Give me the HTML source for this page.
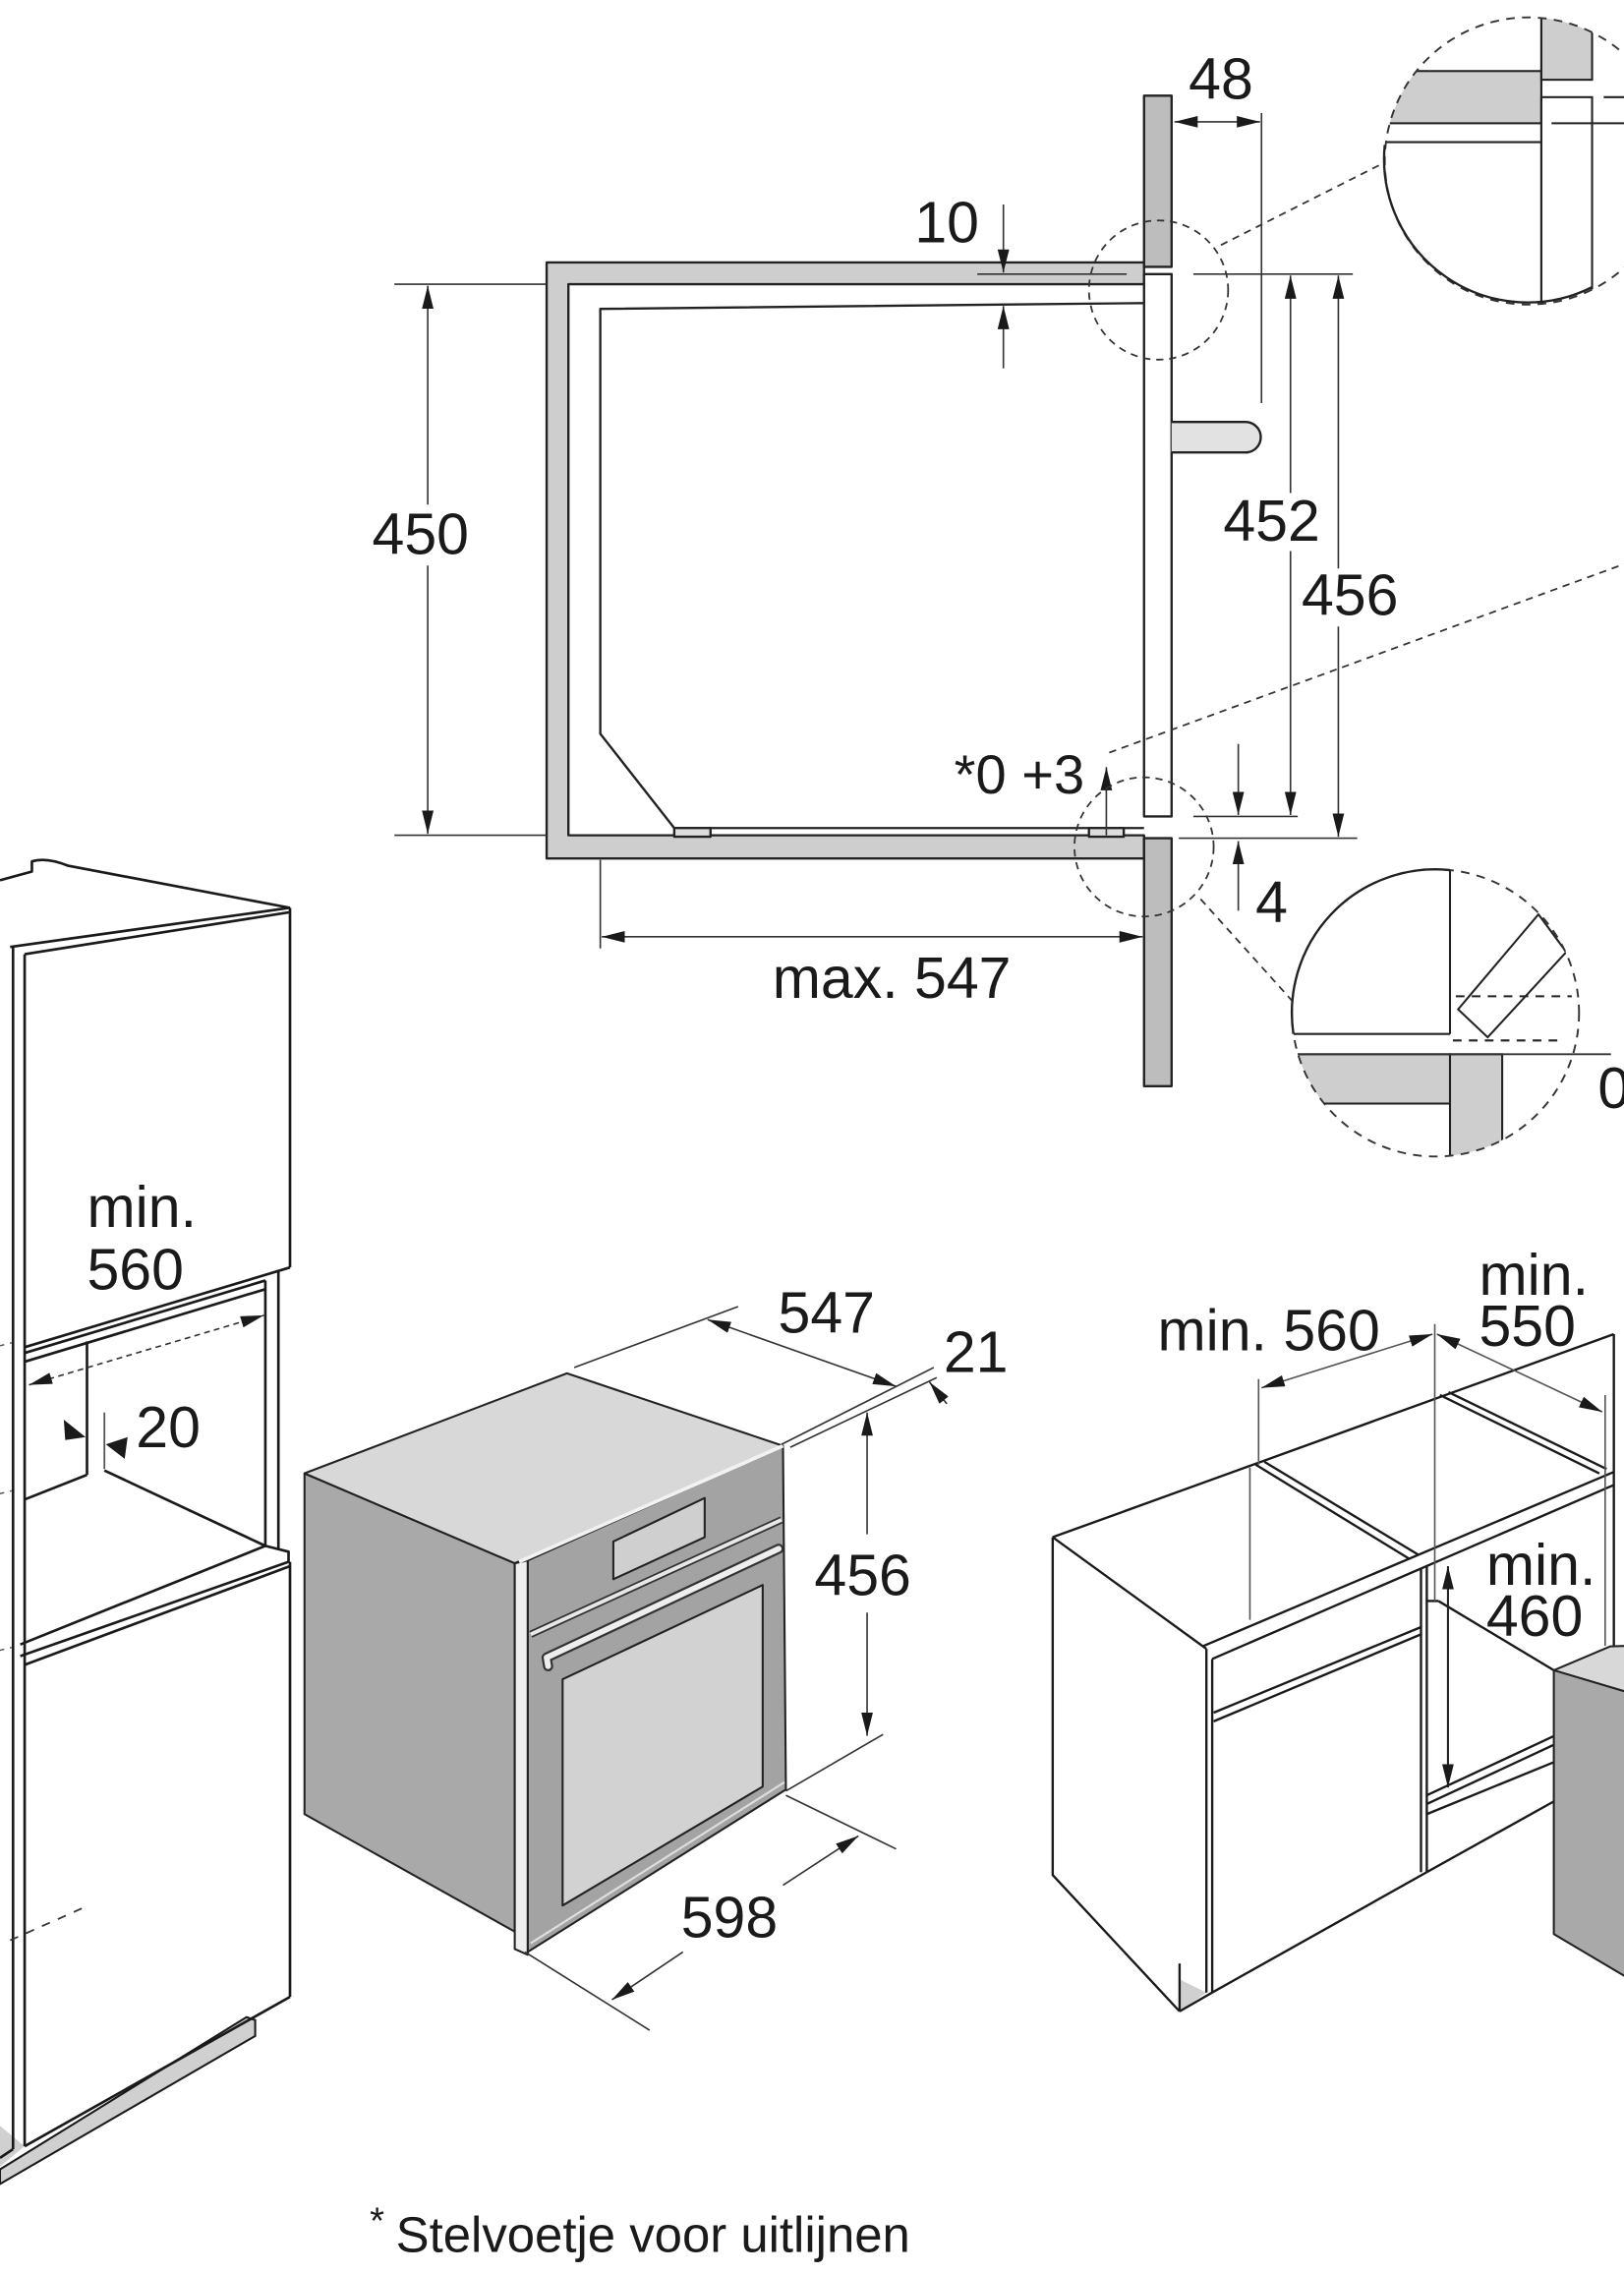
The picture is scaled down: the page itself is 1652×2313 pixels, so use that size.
<!DOCTYPE html>
<html><head><meta charset="utf-8">
<style>
html,body{margin:0;padding:0;background:#fff;}
svg{display:block;}
text{font-family:"Liberation Sans",sans-serif;fill:#1a1a1a;font-size:40px;}
</style></head><body>
<svg width="1652" height="2313" viewBox="0 0 1120 1568.1" preserveAspectRatio="none" xmlns="http://www.w3.org/2000/svg">
<defs>
<marker id="ar" viewBox="0 0 16 8" refX="16" refY="4" markerWidth="16" markerHeight="8" markerUnits="userSpaceOnUse" orient="auto-start-reverse"><path d="M0,0 L16,4 L0,8 Z" fill="#1a1a1a"/></marker>
<clipPath id="c1"><circle cx="1054" cy="111" r="99"/></clipPath>
<clipPath id="c2"><circle cx="990" cy="698.5" r="99"/></clipPath>
</defs>

<!-- ================= TOP SECTION DIAGRAM ================= -->
<g fill="none" stroke="#222" stroke-width="1.6" stroke-linejoin="round">
<path d="M377,181 H789 V196 H392 V576 H789 V592 H377 Z" fill="#cecece"/>
<rect x="789" y="66" width="19" height="118" fill="#bdbdbd"/>
<rect x="789" y="578" width="19" height="171" fill="#bdbdbd"/>
<rect x="789" y="189" width="19" height="374" fill="#fff"/>
<path d="M789,209 L414,213 V506 L465,571 H789"/>
<rect x="465" y="571" width="25" height="6" fill="#ddd"/>
<rect x="751" y="571" width="24" height="6" fill="#ddd"/>
<path d="M808,291 H859 A10.5,10.5 0 0 1 859,312 H808" fill="#e2e2e2"/>
</g>

<g stroke="#333" stroke-width="1.1" fill="none">
<line x1="870" y1="78" x2="870" y2="278"/>
<line x1="810" y1="84" x2="869" y2="84" marker-start="url(#ar)" marker-end="url(#ar)"/>
<line x1="692" y1="141" x2="692" y2="188" marker-end="url(#ar)"/>
<line x1="674" y1="189" x2="777" y2="189"/>
<line x1="692" y1="254" x2="692" y2="211" marker-end="url(#ar)"/>
<line x1="823" y1="189" x2="933" y2="189"/>
<line x1="823" y1="563" x2="895" y2="563"/>
<line x1="813" y1="578" x2="936" y2="578"/>
<line x1="890" y1="190" x2="890" y2="340" marker-start="url(#ar)"/>
<line x1="890" y1="380" x2="890" y2="562" marker-end="url(#ar)"/>
<line x1="923" y1="190" x2="923" y2="392" marker-start="url(#ar)"/>
<line x1="923" y1="432" x2="923" y2="577" marker-end="url(#ar)"/>
<line x1="272" y1="196" x2="377" y2="196"/>
<line x1="272" y1="576" x2="377" y2="576"/>
<line x1="295" y1="197" x2="295" y2="348" marker-start="url(#ar)"/>
<line x1="295" y1="390" x2="295" y2="575" marker-end="url(#ar)"/>
<line x1="414" y1="593" x2="414" y2="654"/>
<line x1="415" y1="646" x2="788" y2="646" marker-start="url(#ar)" marker-end="url(#ar)"/>
<line x1="763" y1="576" x2="763" y2="529" marker-end="url(#ar)"/>
<line x1="854" y1="513" x2="854" y2="562" marker-end="url(#ar)"/>
<line x1="854" y1="628" x2="854" y2="580" marker-end="url(#ar)"/>
</g>

<g stroke="#333" stroke-width="1.2" fill="none" stroke-dasharray="5 4">
<circle cx="799" cy="200" r="48"/>
<circle cx="789" cy="584" r="48"/>
<line x1="842" y1="169" x2="955" y2="112"/>
<line x1="765" y1="519" x2="1120" y2="389"/>
<line x1="828" y1="620" x2="891" y2="690"/>
</g>

<text x="842" y="68" text-anchor="middle">48</text>
<text x="653" y="167" text-anchor="middle">10</text>
<text x="877" y="373" text-anchor="middle">452</text>
<text x="931" y="424" text-anchor="middle">456</text>
<text x="290" y="382" text-anchor="middle">450</text>
<text x="615" y="688" text-anchor="middle">max. 547</text>
<text x="703" y="547" text-anchor="middle" style="font-size:38px">*0 +3</text>
<text x="877" y="636" text-anchor="middle">4</text>

<!-- detail circle 1 -->
<circle cx="1054" cy="111" r="99" fill="#fff" stroke="none"/>
<g clip-path="url(#c1)" stroke="#222" stroke-width="1.4" fill="none">
<rect x="940" y="49" width="123" height="36" fill="#cecece"/>
<line x1="940" y1="98" x2="1063" y2="98"/>
<rect x="1063" y="0" width="35" height="55" fill="#cecece"/>
<rect x="1063" y="67" width="35" height="150" fill="#fff"/>
<line x1="1063" y1="0" x2="1063" y2="215"/>
<line x1="1106" y1="67" x2="1160" y2="67"/>
<line x1="1070" y1="85" x2="1160" y2="85"/>
</g>
<circle cx="1054" cy="111" r="99" fill="none" stroke="#333" stroke-dasharray="6 5" stroke-width="1.3"/>
<path d="M955,100 A99,99 0 0 0 1098,198" stroke="#222" stroke-width="1.6" fill="none"/>

<!-- detail circle 2 -->
<circle cx="990" cy="698.5" r="99" fill="#fff" stroke="none"/>
<g clip-path="url(#c2)" stroke="#222" stroke-width="1.4" fill="none">
<rect x="880" y="727" width="120" height="34" fill="#cecece"/>
<rect x="1000" y="727" width="36" height="80" fill="#cecece"/>
<line x1="1000" y1="590" x2="1000" y2="713"/>
<line x1="880" y1="713" x2="1000" y2="713"/>
<polygon points="1061,630.5 1080.2,656.5 1026,715.3 1005.6,696" fill="#fff"/>
<g stroke-dasharray="6 5"><line x1="1004" y1="687" x2="1084" y2="687"/><line x1="1002" y1="717.5" x2="1078" y2="717.5"/></g>
</g>
<line x1="895" y1="727" x2="1111" y2="727" stroke="#333" stroke-width="1.3"/>
<circle cx="990" cy="698.5" r="99" fill="none" stroke="#333" stroke-dasharray="6 5" stroke-width="1.3"/>
<path d="M892,713 A99,99 0 0 1 1000,600" stroke="#222" stroke-width="1.6" fill="none"/>
<text x="1102" y="764">0</text>

<!-- ================= LEFT TALL CABINET ================= -->
<polygon points="170,1391 176,1393 176,1404 0,1506 0,1496" fill="#d0d0d0" stroke="#1a1a1a" stroke-width="1.4"/>
<polygon points="0,1466 17,1480 0,1494" fill="#d0d0d0"/>
<g stroke="#1a1a1a" stroke-width="1.8" fill="none" stroke-linejoin="round">
<path d="M0,607 L22,601 L22,594 Q32,591 47,597 L200,626"/>
<line x1="7" y1="653" x2="200" y2="626"/>
<line x1="17" y1="658" x2="200" y2="629"/>
<line x1="200" y1="626" x2="200" y2="874"/>
<line x1="200" y1="874" x2="17" y2="929"/>
<line x1="9" y1="653" x2="9" y2="1482"/>
<line x1="17" y1="658" x2="17" y2="1480"/>
<line x1="17" y1="933" x2="183" y2="883"/>
<line x1="17" y1="939" x2="183" y2="889"/>
<line x1="183" y1="883" x2="183" y2="1066"/>
<line x1="192" y1="877" x2="192" y2="1068"/>
<line x1="60" y1="925" x2="60" y2="1017"/>
<line x1="17" y1="1034" x2="60" y2="1017"/>
<line x1="72" y1="1014" x2="183" y2="1066"/>
<path d="M14,1134 L183,1066 L199,1070 L199,1077 L14,1142"/>
<line x1="17" y1="1148" x2="200" y2="1080"/>
<line x1="200" y1="1077" x2="200" y2="1377"/>
<line x1="200" y1="1377" x2="17" y2="1480"/>
<line x1="9" y1="1482" x2="0" y2="1488"/>
</g>
<line x1="72" y1="974" x2="72" y2="1013" stroke="#555" stroke-width="1.2"/>
<line x1="20" y1="955" x2="182" y2="907" stroke="#333" stroke-width="1.1" stroke-dasharray="4 3" marker-start="url(#ar)" marker-end="url(#ar)"/>
<line x1="7" y1="1338" x2="61" y2="1314" stroke="#333" stroke-width="1.2" stroke-dasharray="6 6"/>
<g stroke="#555" stroke-width="1" stroke-dasharray="3 4">
<line x1="0" y1="928" x2="8" y2="926"/>
<line x1="0" y1="1138" x2="8" y2="1136"/>
<line x1="0" y1="1030" x2="8" y2="1028"/>
</g>
<polygon points="44,979 59,991 45,993" fill="#1a1a1a"/>
<polygon points="88,991 73,996 86,1006" fill="#1a1a1a"/>
<text x="60" y="846">min.</text>
<text x="60" y="889">560</text>
<text x="116" y="998" text-anchor="middle">20</text>

<!-- ================= OVEN ================= -->
<g stroke="#222" stroke-width="1.4" stroke-linejoin="round">
<polygon points="210,1016 355,1078 355,1332 210,1251" fill="#a9a9a9"/>
<polygon points="210,1016 391,947 540,997 355,1078" fill="#d8d8d8"/>
<polygon points="355,1078 364,1076 364,1348 355,1344" fill="#efefef"/>
<polygon points="364,1076 540,997 542,1234 364,1346" fill="#a3a3a3"/>
<polygon points="423,1063 486,1033 486,1060 423,1089" fill="#cfcfcf"/>
<polygon points="388,1158 526,1093 526,1232 388,1314" fill="#d2d2d2"/>
</g>
<line x1="358" y1="1077" x2="540" y2="997" stroke="#f2f2f2" stroke-width="2.5"/>
<line x1="366" y1="1127" x2="539" y2="1048" stroke="#333" stroke-width="5"/>
<line x1="366" y1="1127" x2="539" y2="1048" stroke="#e8e8e8" stroke-width="2.6"/>
<path d="M378,1149 L377,1143 L537,1068" stroke="#333" stroke-width="7" stroke-linecap="round" stroke-linejoin="round" fill="none"/>
<path d="M378,1149 L377,1143 L537,1068" stroke="#eee" stroke-width="4" stroke-linecap="round" stroke-linejoin="round" fill="none"/>
<line x1="366" y1="1340" x2="541" y2="1229" stroke="#ddd" stroke-width="1.5"/>

<g stroke="#333" stroke-width="1.1" fill="none">
<line x1="396" y1="943" x2="509" y2="901"/>
<line x1="488" y1="910" x2="618" y2="956" marker-start="url(#ar)" marker-end="url(#ar)"/>
<line x1="539" y1="996" x2="644" y2="943"/>
<line x1="545" y1="998" x2="646" y2="950"/>
<line x1="653" y1="968" x2="641" y2="953" marker-end="url(#ar)"/>
<line x1="598" y1="1058" x2="598" y2="974" marker-end="url(#ar)"/>
<line x1="598" y1="1112" x2="598" y2="1197" marker-end="url(#ar)"/>
<line x1="542" y1="1235" x2="609" y2="1196"/>
<line x1="542" y1="1238" x2="618" y2="1275"/>
<line x1="540" y1="1300" x2="592" y2="1266" marker-end="url(#ar)"/>
<line x1="471" y1="1346" x2="422" y2="1379" marker-end="url(#ar)"/>
<line x1="362" y1="1346" x2="448" y2="1400"/>
</g>
<text x="570" y="919" text-anchor="middle">547</text>
<text x="673" y="946" text-anchor="middle">21</text>
<text x="595" y="1100" text-anchor="middle">456</text>
<text x="503" y="1336" text-anchor="middle">598</text>

<!-- ================= KITCHEN BASE CABINET ================= -->
<polygon points="813.5,1365 832,1374 813.5,1387" fill="#d0d0d0"/>
<g stroke="#1a1a1a" stroke-width="1.6" fill="none" stroke-linejoin="round">
<path d="M726,1060 L1113,920"/>
<path d="M726,1060 L832,1137"/>
<path d="M726,1060 V1293 L813.5,1387"/>
<path d="M813.5,1354 V1387"/>
<line x1="832" y1="1137" x2="832" y2="1374"/>
<line x1="836" y1="1144" x2="836" y2="1374"/>
<line x1="813.5" y1="1387" x2="836" y2="1374"/>
<line x1="830" y1="1135" x2="1113" y2="1015"/>
<line x1="836" y1="1144" x2="1113" y2="1024"/>
<line x1="837" y1="1181" x2="980" y2="1122"/>
<line x1="837" y1="1187" x2="980" y2="1127"/>
<line x1="980" y1="1082" x2="980" y2="1291"/>
<line x1="984" y1="1080" x2="984" y2="1291"/>
<line x1="836" y1="1374" x2="984" y2="1291"/>
<line x1="866" y1="1010" x2="972" y2="1075"/>
<line x1="872" y1="1008" x2="978" y2="1072"/>
<line x1="993" y1="962" x2="1103" y2="1016"/>
<line x1="999" y1="960" x2="1108" y2="1013"/>
<line x1="984" y1="1104" x2="992" y2="1104"/>
<line x1="992" y1="1104" x2="1072" y2="1152"/>
<line x1="984" y1="1238" x2="1072" y2="1197"/>
<line x1="984" y1="1244" x2="1072" y2="1203"/>
<line x1="984" y1="1251" x2="1072" y2="1215"/>
<line x1="984" y1="1291" x2="1072" y2="1242"/>
<line x1="1113" y1="920" x2="1113" y2="1135"/>
</g>
<g stroke="#555" stroke-width="1.1" fill="none">
<line x1="868" y1="951" x2="868" y2="1010"/>
<line x1="862" y1="1012" x2="862" y2="1117"/>
<line x1="989.5" y1="913" x2="989.5" y2="1104"/>
<line x1="1107" y1="962" x2="1107" y2="1135"/>
<line x1="870" y1="957" x2="988" y2="920" marker-start="url(#ar)" marker-end="url(#ar)"/>
<line x1="991" y1="920" x2="1105" y2="973.6" marker-start="url(#ar)" marker-end="url(#ar)"/>
<line x1="998.6" y1="1080" x2="998.6" y2="1232.6" marker-start="url(#ar)" marker-end="url(#ar)" stroke="#222" stroke-width="1.4"/>
</g>
<g stroke="#222" stroke-width="1.4" stroke-linejoin="round">
<polygon points="1071.6,1151.8 1110.6,1135.3 1121,1135 1121,1166.5" fill="#d8d8d8"/>
<polygon points="1071.6,1151.8 1121,1166.5 1121,1363 1071.6,1333.7" fill="#a9a9a9"/>
</g>
<text x="875" y="931" text-anchor="middle">min. 560</text>
<text x="1020" y="893">min.</text>
<text x="1020" y="928">550</text>
<text x="1025" y="1093">min.</text>
<text x="1025" y="1128">460</text>

<!-- footnote -->
<text x="255" y="1540" style="font-size:26px">*</text>
<text x="273" y="1553" style="font-size:34.5px">Stelvoetje voor uitlijnen</text>
</svg>
</body></html>
